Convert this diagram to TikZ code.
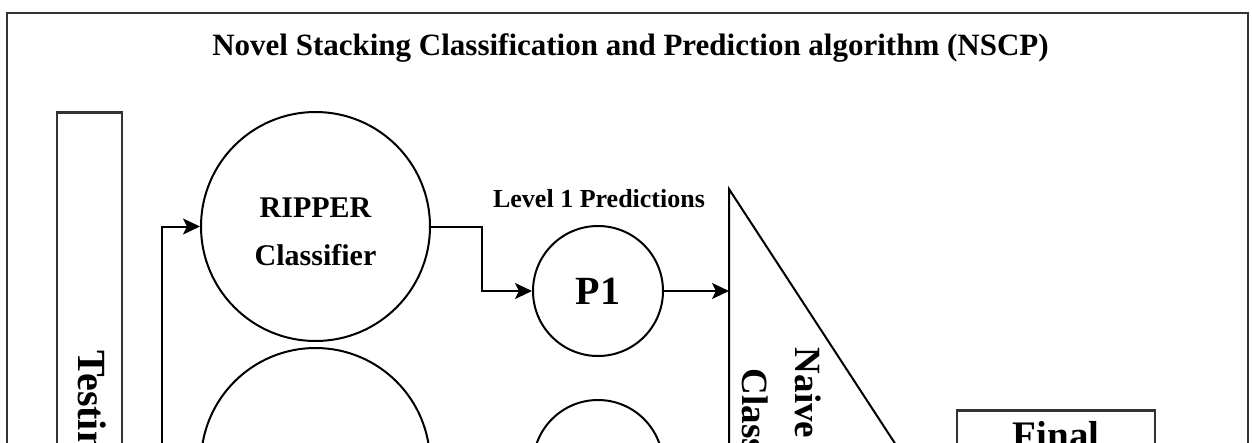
\documentclass[tikz,border=0pt]{standalone}
\usepackage{fontspec}
\setmainfont{Liberation Serif}
\usetikzlibrary{arrows.meta}
\begin{document}
\begin{tikzpicture}[x=1pt,y=-1pt,
  frameline/.style={draw=black!80, line width=2.5pt},
  shapeline/.style={draw=black, line width=2pt},
  arrow/.style={draw=black, line width=2pt, -{Stealth[length=17pt,width=16pt,inset=4pt]}},
  bigcirc/.style={shapeline, circle, minimum size=229pt, inner sep=0pt},
  smallcirc/.style={shapeline, circle, minimum size=130pt, inner sep=0pt},
  lbl/.style={inner sep=0pt, font=\bfseries\fontsize{#1}{#1}\selectfont},
]
\useasboundingbox (0,0) rectangle (1252,442);
\fill[white] (0,0) rectangle (1252,442);
\clip (0,0) rectangle (1252,442);

% outer frame
\draw[frameline] (7,13) rectangle (1248,900);
\node[lbl=31, anchor=base] (title) at (630.5,55) {Novel Stacking Classification and Prediction algorithm (NSCP)};

% testing data
\node[frameline, minimum width=65pt, minimum height=700pt, inner sep=0pt, anchor=north] (test) at (89.5,111) {};
\node[lbl=40, rotate=-90, anchor=base west] (testlbl) at (78,350) {Testing Dataset};

% classifiers
\node[bigcirc] (ripper) at (315.5,226.5) {};
\node[lbl=30, anchor=base] (ripperl1) at (315.5,217) {RIPPER};
\node[lbl=30, anchor=base] (ripperl2) at (315.5,265) {Classifier};
\node[bigcirc] (clf2) at (315.5,462.5) {};

% level 1 predictions
\node[lbl=26, anchor=base] (lvl) at (599,207) {Level 1 Predictions};
\node[smallcirc, lbl=40, draw=black, line width=2pt] (p1) at (598,291) {P1};
\node[smallcirc] (p2) at (598,465) {};

% meta classifier (triangle)
\coordinate (triA) at (729,189);
\coordinate (triB) at (896,445);
\coordinate (triC) at (729,701);
\draw[shapeline, line join=miter] (triA) -- (triB) -- (triC) -- cycle;
\node[lbl=37, rotate=-90, anchor=base] (nb1) at (795,444) {Naive Bayes};
\node[lbl=37, rotate=-90, anchor=base] (nb2) at (742,444) {Classifier};

% final
\node[frameline, minimum width=198pt, minimum height=95pt, inner sep=0pt, align=center,
      font=\bfseries\fontsize{39}{45}\selectfont] (final) at (1056,458) {Final\\Prediction};

% connectors
\coordinate (split) at (162,700);
\draw[arrow] (split) |- (ripper.west);
\draw[arrow] (ripper.east) -- ++(51,0) |- (p1.west);
\draw[arrow] (p1.east) -- (p1.east -| triA);
\end{tikzpicture}
\end{document}
